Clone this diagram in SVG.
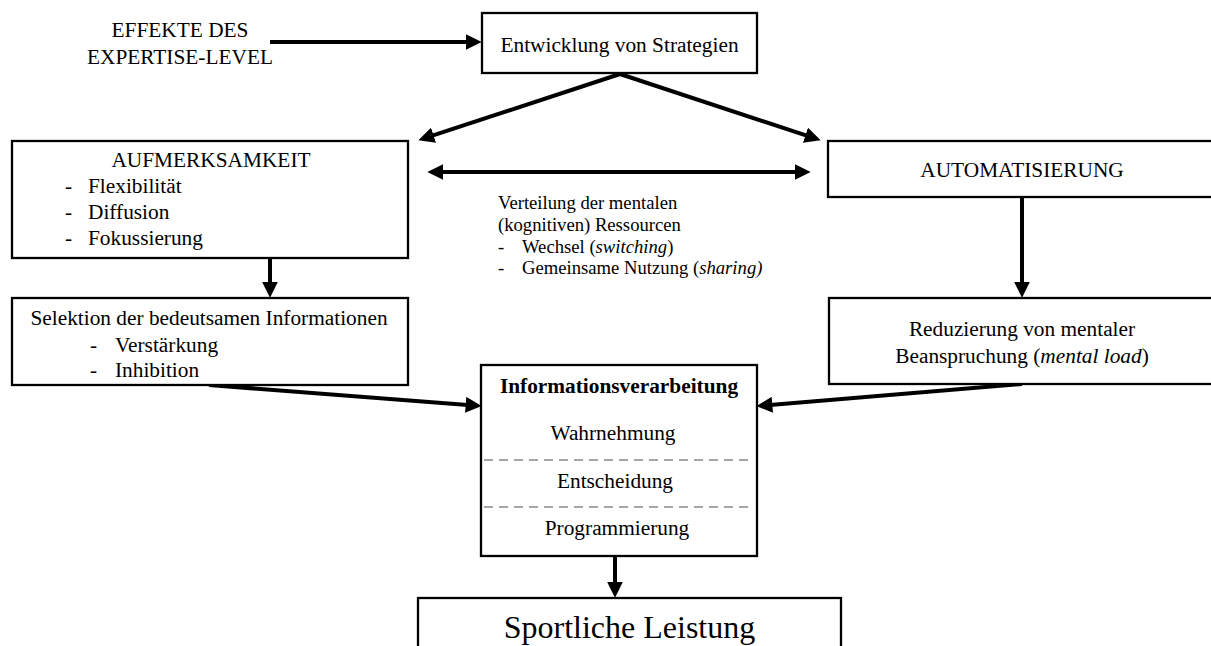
<svg xmlns="http://www.w3.org/2000/svg" width="1211" height="646" viewBox="0 0 1211 646">
<defs>
<style>
text{font-family:"Liberation Serif","Times New Roman",serif;font-size:21.33px;fill:#000}
.sm{font-size:18.67px}
.mid{text-anchor:middle}
.b{font-weight:bold}
.i{font-style:italic}
.big{font-size:32px}
.box{fill:#fff;stroke:#000;stroke-width:2.3}
.con{fill:none;stroke:#000;stroke-width:4}
.dash{stroke:#A6A6A6;stroke-width:2;stroke-dasharray:9 6}
</style>
<marker id="ah" markerUnits="userSpaceOnUse" markerWidth="16" markerHeight="16" viewBox="0 0 15 15" refX="5" refY="7.5" orient="auto-start-reverse">
<path d="M0,0 L15,7.5 L0,15 z" fill="#000"/>
</marker>
</defs>
<rect width="1211" height="646" fill="#fff"/>

<g id="connectors">
<line class="con" x1="270" y1="42" x2="471" y2="42" marker-end="url(#ah)"/>
<line class="con" x1="620" y1="74" x2="428.5" y2="136.9" marker-end="url(#ah)"/>
<line class="con" x1="620" y1="74" x2="810.5" y2="136.9" marker-end="url(#ah)"/>
<line class="con" x1="438" y1="172" x2="800" y2="172" marker-start="url(#ah)" marker-end="url(#ah)"/>
<line class="con" x1="270" y1="258" x2="270" y2="287" marker-end="url(#ah)"/>
<line class="con" x1="1022" y1="197" x2="1022" y2="287" marker-end="url(#ah)"/>
<line class="con" x1="209" y1="385" x2="471" y2="405.2" marker-end="url(#ah)"/>
<line class="con" x1="1022" y1="384" x2="767" y2="405.2" marker-end="url(#ah)"/>
<line class="con" x1="615" y1="556" x2="615" y2="587" marker-end="url(#ah)"/>
</g>

<g id="effekte">
<text class="mid" x="180" y="37">EFFEKTE DES</text>
<text class="mid" x="180" y="64">EXPERTISE-LEVEL</text>
</g>

<g id="entwicklung">
<rect class="box" x="482" y="13" width="275" height="60"/>
<text class="mid" x="619.5" y="52">Entwicklung von Strategien</text>
</g>

<g id="aufmerksamkeit">
<rect class="box" x="12" y="141" width="396" height="117"/>
<text class="mid" x="211" y="167">AUFMERKSAMKEIT</text>
<text x="65" y="193">-</text><text x="88" y="193">Flexibilität</text>
<text x="65" y="219">-</text><text x="88" y="219">Diffusion</text>
<text x="65" y="245">-</text><text x="88" y="245">Fokussierung</text>
</g>

<g id="automatisierung">
<rect class="box" x="828" y="141" width="387" height="56"/>
<text class="mid" x="1022" y="177">AUTOMATISIERUNG</text>
</g>

<g id="verteilung">
<text class="sm" x="498" y="209">Verteilung der mentalen</text>
<text class="sm" x="498" y="231">(kognitiven) Ressourcen</text>
<text class="sm" x="498" y="253">-</text><text class="sm" x="522" y="253">Wechsel (<tspan class="i">switching</tspan>)</text>
<text class="sm" x="498" y="274">-</text><text class="sm" x="522" y="274">Gemeinsame Nutzung (<tspan class="i">sharing)</tspan></text>
</g>

<g id="selektion">
<rect class="box" x="12" y="298" width="396" height="87"/>
<text class="mid" x="209" y="325">Selektion der bedeutsamen Informationen</text>
<text x="90" y="352">-</text><text x="115" y="352">Verstärkung</text>
<text x="90" y="377">-</text><text x="115" y="377">Inhibition</text>
</g>

<g id="reduzierung">
<rect class="box" x="829" y="298" width="386" height="86"/>
<text class="mid" x="1022" y="336">Reduzierung von mentaler</text>
<text class="mid" x="1022" y="363">Beanspruchung (<tspan class="i">mental load</tspan>)</text>
</g>

<g id="informationsverarbeitung">
<rect class="box" x="481" y="365" width="276" height="191"/>
<text class="mid b" x="619" y="393">Informationsverarbeitung</text>
<text class="mid" x="613" y="440">Wahrnehmung</text>
<line class="dash" x1="484" y1="460" x2="754" y2="460"/>
<text class="mid" x="615" y="488">Entscheidung</text>
<line class="dash" x1="484" y1="507" x2="754" y2="507"/>
<text class="mid" x="617" y="535">Programmierung</text>
</g>

<g id="sportliche">
<rect class="box" x="418" y="598" width="423" height="60"/>
<text class="mid big" x="629.5" y="638">Sportliche Leistung</text>
</g>
</svg>
